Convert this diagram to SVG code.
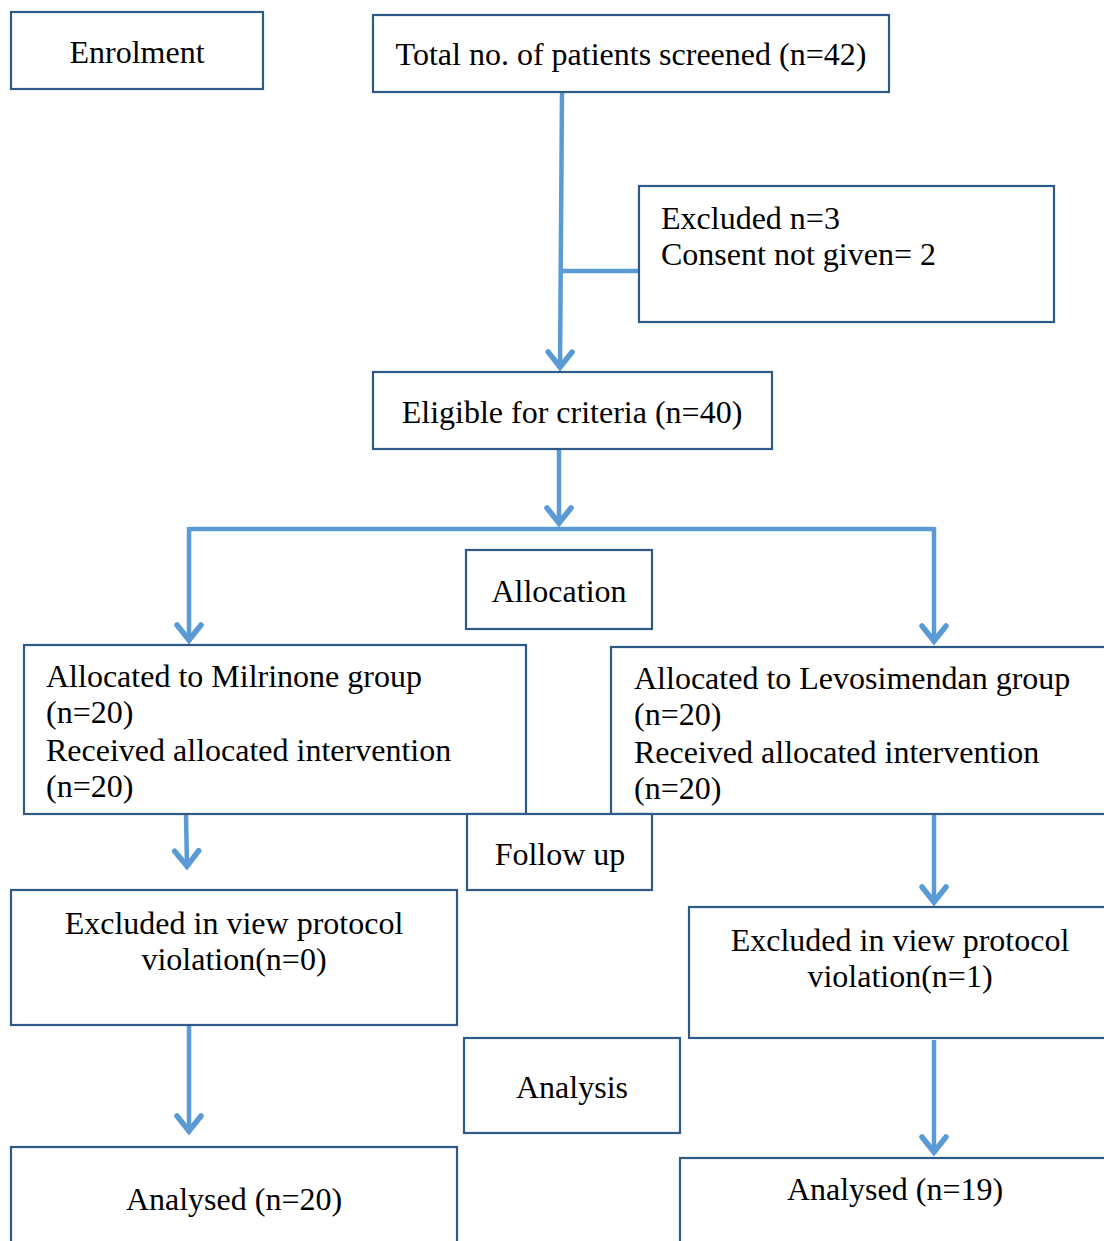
<svg xmlns="http://www.w3.org/2000/svg" width="1104" height="1241" viewBox="0 0 1104 1241">
<defs>
<style>
.box{fill:#fff;stroke:#2E5A87;stroke-width:2.2}
.t{font-family:"Liberation Serif","Times New Roman",serif;font-size:32px;fill:#000}
.c{text-anchor:middle}
.ln{fill:none;stroke:#5B9BD5;stroke-width:4.5}
</style>
<marker id="ah" markerUnits="userSpaceOnUse" markerWidth="40" markerHeight="40" refX="0" refY="0" viewBox="-20 -20 40 40" orient="auto" overflow="visible">
<path d="M-17,-12 L-2,0 L-17,12" fill="none" stroke="#5B9BD5" stroke-width="5.5" stroke-linecap="round" stroke-linejoin="miter"/>
</marker>
</defs>
<rect width="1104" height="1241" fill="#fff"/>
<g id="connectors">
<path class="ln" d="M562,92 L560,369" marker-end="url(#ah)"/>
<path class="ln" d="M561,271 L639,271"/>
<path class="ln" d="M559,449 L559,525" marker-end="url(#ah)"/>
<path class="ln" d="M189,529 L934,529"/>
<path class="ln" d="M189,527 L189,642" marker-end="url(#ah)"/>
<path class="ln" d="M934,527 L934,643" marker-end="url(#ah)"/>
<path class="ln" d="M186,814 L187,868" marker-end="url(#ah)"/>
<path class="ln" d="M934,814 L934,904" marker-end="url(#ah)"/>
<path class="ln" d="M189,1021 L189,1133" marker-end="url(#ah)"/>
<path class="ln" d="M934,1040 L934,1154" marker-end="url(#ah)"/>
</g>
<g id="enrolment"><rect class="box" x="11" y="12" width="252" height="77"/><text class="t c" x="137" y="63">Enrolment</text></g>
<g id="screened"><rect class="box" x="373" y="15" width="516" height="77"/><text class="t c" x="631" y="65">Total no. of patients screened (n=42)</text></g>
<g id="excluded"><rect class="box" x="639" y="186" width="415" height="136"/><text class="t" x="661" y="229">Excluded n=3</text><text class="t" x="661" y="265">Consent not given= 2</text></g>
<g id="eligible"><rect class="box" x="373" y="372" width="399" height="77"/><text class="t c" x="572" y="423">Eligible for criteria (n=40)</text></g>
<g id="allocation"><rect class="box" x="466" y="550" width="186" height="79"/><text class="t c" x="559" y="602">Allocation</text></g>
<g id="milrinone"><rect class="box" x="24" y="645" width="502" height="169"/>
<text class="t" x="46" y="687">Allocated to Milrinone group</text>
<text class="t" x="46" y="723">(n=20)</text>
<text class="t" x="46" y="761">Received allocated intervention</text>
<text class="t" x="46" y="797">(n=20)</text></g>
<g id="levosimendan"><rect class="box" x="611" y="647" width="500" height="167"/>
<text class="t" x="634" y="689">Allocated to Levosimendan group</text>
<text class="t" x="634" y="725">(n=20)</text>
<text class="t" x="634" y="763">Received allocated intervention</text>
<text class="t" x="634" y="799">(n=20)</text></g>
<g id="followup"><rect class="box" x="467" y="814" width="185" height="76"/><text class="t c" x="560" y="865">Follow up</text></g>
<g id="excl-left"><rect class="box" x="11" y="890" width="446" height="135"/>
<text class="t c" x="234" y="934">Excluded in view protocol</text>
<text class="t c" x="234" y="970">violation(n=0)</text></g>
<g id="excl-right"><rect class="box" x="689" y="907" width="422" height="131"/>
<text class="t c" x="900" y="951">Excluded in view protocol</text>
<text class="t c" x="900" y="987">violation(n=1)</text></g>
<g id="analysis"><rect class="box" x="464" y="1038" width="216" height="95"/><text class="t c" x="572" y="1098">Analysis</text></g>
<g id="analysed-left"><rect class="box" x="11" y="1147" width="446" height="110"/><text class="t c" x="234" y="1210">Analysed (n=20)</text></g>
<g id="analysed-right"><rect class="box" x="680" y="1158" width="431" height="100"/><text class="t c" x="895" y="1200">Analysed (n=19)</text></g>
</svg>
